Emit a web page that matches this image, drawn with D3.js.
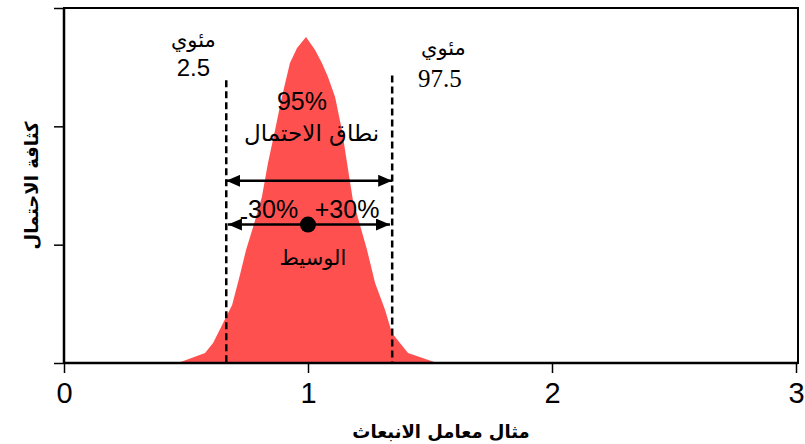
<!DOCTYPE html>
<html>
<head>
<meta charset="utf-8">
<script src="https://cdn.jsdelivr.net/npm/d3@7"></script>
<style>
  body { margin: 0; background: #fff; }
  svg { display: block; }
</style>
</head>
<body>
<div id="chart"></div>
<script>
// Density polygon (x = emission factor, y = density)
const densX = [0.467, 0.578, 0.611, 0.652, 0.689, 0.721, 0.746, 0.775, 0.811, 0.836, 0.865, 0.893, 0.926, 0.955, 0.992,
               1.029, 1.057, 1.082, 1.111, 1.139, 1.160, 1.184, 1.213, 1.242, 1.275, 1.316, 1.344, 1.377, 1.410, 1.529];
const densY = [0, 0.085, 0.169, 0.338, 0.49, 0.744, 0.955, 1.149, 1.403, 1.69, 1.969, 2.248, 2.535, 2.662, 2.755,
               2.645, 2.535, 2.417, 2.248, 1.969, 1.69, 1.377, 1.166, 0.955, 0.676, 0.448, 0.254, 0.169, 0.085, 0];

// Percentiles and median
const percentiles = [0.665, 1.345];
const percentileTop = [2.39, 2.43];
const median = 1.0;
const medianY = 1.17;
const rangeArrow = { from: 0.665, to: 1.345, y: 1.54 };
const pctArrow = { from: 0.672, to: 1.336, y: 1.17 };

const xTicks = [0, 1, 2, 3];
const yTicks = [0, 1, 2, 3];

const W = 805, H = 444;
const margin = { top: 8, right: 7, bottom: 81, left: 64 },
    width = W - margin.left - margin.right,
    height = H - margin.top - margin.bottom;

const x = d3.scaleLinear().domain([0, 3]).range([0, 732]);
const y = d3.scaleLinear().domain([0, 3]).range([height, 0]);

const svg = d3.select("#chart")
    .append("svg")
    .attr("width", W)
    .attr("height", H)
    .append("g")
    .attr("transform", `translate(${margin.left},${margin.top})`);

// arrow heads
const defs = svg.append("defs");
["start", "end"].forEach(k => {
    defs.append("marker")
        .attr("id", "arr-" + k)
        .attr("markerUnits", "userSpaceOnUse")
        .attr("viewBox", "0 0 14 12")
        .attr("markerWidth", 14)
        .attr("markerHeight", 12)
        .attr("refX", 14)
        .attr("refY", 6)
        .attr("orient", k == "start" ? "auto-start-reverse" : "auto")
        .append("path")
        .attr("d", "M0,0 L14,6 L0,12 Z")
        .attr("fill", "#000");
});

// density area
const pts = densX.map((d, i) => [d, densY[i]]);
svg.append("path")
    .datum(pts)
    .attr("fill", "#ff5050")
    .attr("d", d3.area().x(d => x(d[0])).y0(y(0)).y1(d => y(d[1])));

// frame
svg.append("rect")
    .attr("x", 0).attr("y", 0)
    .attr("width", width).attr("height", height)
    .attr("fill", "none")
    .attr("stroke", "#000")
    .attr("stroke-width", 2);

// axes
const xAxis = svg.append("g")
    .attr("transform", `translate(0,${height})`)
    .call(d3.axisBottom(x).tickValues(xTicks).tickSize(10).tickPadding(9).tickFormat(d3.format("d")));
xAxis.select(".domain").remove();
xAxis.selectAll("line").attr("stroke-width", 1.5);
xAxis.selectAll("text")
    .attr("font-family", "Liberation Sans, Arial, sans-serif")
    .attr("font-size", 29)
    .attr("fill", "#000");

const yAxis = svg.append("g")
    .call(d3.axisLeft(y).tickValues(yTicks).tickSize(10).tickFormat(""));
yAxis.select(".domain").remove();
yAxis.selectAll("line").attr("stroke-width", 1.5);

svg.append("line")
    .attr("x1", 0).attr("x2", 0).attr("y1", 0).attr("y2", height)
    .attr("stroke", "#000").attr("stroke-width", 2.5);
svg.append("line")
    .attr("x1", 0).attr("x2", width).attr("y1", height).attr("y2", height)
    .attr("stroke", "#000").attr("stroke-width", 2.5);

// axis titles
svg.append("text")
    .attr("x", width / 2 + 10)
    .attr("y", height + 75)
    .attr("text-anchor", "middle")
    .attr("font-family", "DejaVu Sans, sans-serif")
    .attr("font-weight", "bold")
    .attr("font-size", 18)
    .text("مثال معامل الانبعاث");

svg.append("text")
    .attr("transform", "rotate(-90)")
    .attr("x", -height / 2)
    .attr("y", -margin.left + 38)
    .attr("text-anchor", "middle")
    .attr("font-family", "DejaVu Sans, sans-serif")
    .attr("font-weight", "bold")
    .attr("font-size", 18)
    .text("كثافة الاحتمال");

// percentile dashed lines
svg.selectAll(".pct")
    .data(percentiles)
    .enter()
    .append("line")
    .attr("x1", d => x(d)).attr("x2", d => x(d))
    .attr("y1", (d, i) => y(percentileTop[i]))
    .attr("y2", y(0))
    .attr("stroke", "#000")
    .attr("stroke-width", 2.5)
    .attr("stroke-dasharray", "7,4");

// arrows
[rangeArrow, pctArrow].forEach(a => {
    svg.append("line")
        .attr("x1", x(a.from)).attr("x2", x(a.to))
        .attr("y1", y(a.y)).attr("y2", y(a.y))
        .attr("stroke", "#000")
        .attr("stroke-width", 2.5)
        .attr("marker-start", "url(#arr-start)")
        .attr("marker-end", "url(#arr-end)");
});

svg.append("circle")
    .attr("cx", x(median))
    .attr("cy", y(medianY))
    .attr("r", 8)
    .attr("fill", "#000");

// labels
const sans = "Liberation Sans, Arial, sans-serif";
const arab = "DejaVu Sans, sans-serif";
function label(tx, ty, txt, size, fam) {
    return svg.append("text")
        .attr("x", tx).attr("y", ty)
        .attr("text-anchor", "middle")
        .attr("font-family", fam)
        .attr("font-size", size)
        .attr("fill", "#000")
        .text(txt);
}
label(x(0.53), 39, "مئوي", 21, arab);
label(x(0.53), 68, "2.5", 24, sans);
label(x(1.555), 47, "مئوي", 21, arab);
label(x(1.54), 79, "97.5", 25, "Liberation Serif, Times New Roman, serif");
label(x(0.975), 102, "95%", 25, sans);
label(x(1.015), 133, "نطاق الاحتمال", 23, arab);
label(x(1.02), 257, "الوسيط", 21, arab);

const minus = svg.append("text")
    .attr("x", x(0.84)).attr("y", 210)
    .attr("text-anchor", "middle")
    .attr("font-family", sans)
    .attr("font-size", 25);
minus.append("tspan").attr("dy", 7).text("-");
minus.append("tspan").attr("dy", -7).text("30%");
label(x(1.16), 210, "+30%", 25, sans);
</script>
</body>
</html>
